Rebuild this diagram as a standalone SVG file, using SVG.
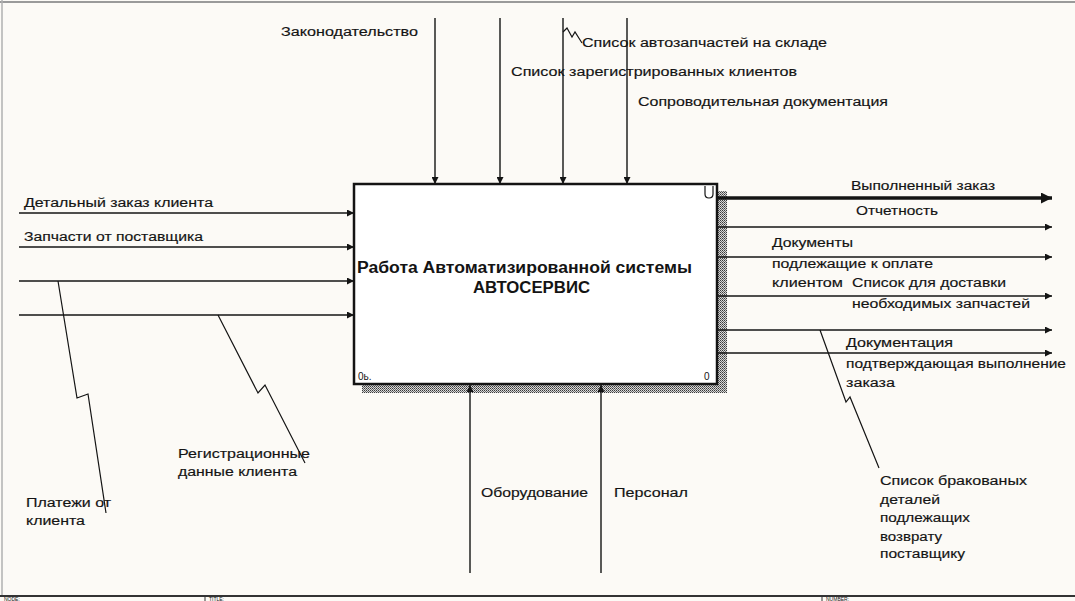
<svg xmlns="http://www.w3.org/2000/svg" width="1075" height="601" viewBox="0 0 1075 601">
<style>
.t{font-family:"Liberation Sans",Arial,sans-serif;font-size:12px;fill:#141414;stroke:#141414;stroke-width:0.15;}
.b{font-family:"Liberation Sans",Arial,sans-serif;font-size:16px;font-weight:bold;fill:#141414;}
.s{font-family:"Liberation Sans",Arial,sans-serif;font-size:10px;fill:#141414;}
.f{font-family:"Liberation Sans",Arial,sans-serif;font-size:5px;fill:#141414;}
.ln{stroke:#141414;stroke-width:1.4;fill:none;}
.sq{stroke:#141414;stroke-width:1.2;fill:none;}
</style>
<defs>
<marker id="ah" viewBox="0 0 10 10" refX="10" refY="5" markerWidth="8" markerHeight="7" markerUnits="userSpaceOnUse" orient="auto">
<path d="M0,0 L10,5 L0,10 z" fill="#141414"/>
</marker>
<marker id="ahb" viewBox="0 0 10 10" refX="10" refY="5" markerWidth="13" markerHeight="11" markerUnits="userSpaceOnUse" orient="auto">
<path d="M0,0 L10,5 L0,10 z" fill="#141414"/>
</marker>
<pattern id="hatch" width="2" height="2" patternUnits="userSpaceOnUse">
<rect width="2" height="2" fill="#d8d8d8"/>
<rect width="1" height="1" fill="#3a3a3a"/>
<rect x="1" y="1" width="1" height="1" fill="#6a6a6a"/>
</pattern>
</defs>
<rect width="1075" height="601" fill="#fcfaf6"/>
<line x1="0" y1="2" x2="1075" y2="2" stroke="#9a9a9a" stroke-width="2"/>
<line x1="2" y1="0" x2="2" y2="596" stroke="#b0b0b0" stroke-width="1.5"/>

<g id="frame">
<line x1="0" y1="596" x2="1075" y2="596" stroke="#333" stroke-width="2"/>
<line x1="205" y1="596" x2="205" y2="601" stroke="#333" stroke-width="1"/>
<line x1="822" y1="596" x2="822" y2="601" stroke="#333" stroke-width="1"/>
<text class="f" x="4" y="600.5">NODE:</text>
<text class="f" x="209" y="600.5">TITLE:</text>
<text class="f" x="826" y="600.5">NUMBER:</text>
</g>

<g id="node-A0">
<rect x="362" y="191" width="365" height="202" fill="url(#hatch)"/>
<rect x="354" y="184" width="363" height="200" fill="#fff" stroke="#141414" stroke-width="2.5"/>
<text class="b" x="357" y="273" textLength="335" lengthAdjust="spacingAndGlyphs">Работа Автоматизированной системы</text>
<text class="b" x="473" y="293" textLength="117" lengthAdjust="spacingAndGlyphs">АВТОСЕРВИС</text>
<text class="s" x="358" y="380">0ь.</text>
<text class="s" x="704" y="380">0</text>
<path d="M705,186 v8 q0,4 4,4 q4,0 4,-4 v-8" stroke="#141414" stroke-width="1.2" fill="none"/>
</g>

<g id="connectors">
<line class="ln" x1="435" y1="18" x2="435" y2="184" marker-end="url(#ah)"/>
<line class="ln" x1="500" y1="18" x2="500" y2="184" marker-end="url(#ah)"/>
<line class="ln" x1="563" y1="18" x2="563" y2="184" marker-end="url(#ah)"/>
<line class="ln" x1="627" y1="18" x2="627" y2="184" marker-end="url(#ah)"/>
<polyline class="sq" points="563,32 567,28 572,37 575,32 582,43"/>
<line class="ln" x1="19" y1="213" x2="354" y2="213" marker-end="url(#ah)"/>
<line class="ln" x1="19" y1="247" x2="354" y2="247" marker-end="url(#ah)"/>
<line class="ln" x1="19" y1="281" x2="354" y2="281" marker-end="url(#ah)"/>
<line class="ln" x1="19" y1="315" x2="354" y2="315" marker-end="url(#ah)"/>
<polyline class="sq" points="58,281 77,398 88,394 106,513"/>
<polyline class="sq" points="218,315 258,393 265,385 305,463"/>
<line x1="717" y1="198" x2="1052" y2="198" stroke="#141414" stroke-width="3.5" marker-end="url(#ahb)"/>
<line class="ln" x1="717" y1="227" x2="1052" y2="227" marker-end="url(#ah)"/>
<line class="ln" x1="717" y1="257" x2="1052" y2="257" marker-end="url(#ah)"/>
<line class="ln" x1="717" y1="296" x2="1052" y2="296" marker-end="url(#ah)"/>
<line class="ln" x1="717" y1="330" x2="1052" y2="330" marker-end="url(#ah)"/>
<line class="ln" x1="717" y1="353" x2="1052" y2="353" marker-end="url(#ah)"/>
<polyline class="sq" points="820,330 846,402 850,397 879,468"/>
<line class="ln" x1="470" y1="573" x2="470" y2="385" marker-end="url(#ah)"/>
<line class="ln" x1="601" y1="573" x2="601" y2="385" marker-end="url(#ah)"/>
</g>

<g id="labels">
<text class="t" x="281" y="36" textLength="137" lengthAdjust="spacingAndGlyphs">Законодательство</text>
<text class="t" x="582" y="47" textLength="245" lengthAdjust="spacingAndGlyphs">Список автозапчастей на складе</text>
<text class="t" x="511" y="76" textLength="286" lengthAdjust="spacingAndGlyphs">Список зарегистрированных клиентов</text>
<text class="t" x="638" y="106" textLength="250" lengthAdjust="spacingAndGlyphs">Сопроводительная документация</text>

<text class="t" x="24" y="207" textLength="189" lengthAdjust="spacingAndGlyphs">Детальный заказ клиента</text>
<text class="t" x="24" y="241" textLength="179" lengthAdjust="spacingAndGlyphs">Запчасти от поставщика</text>
<text class="t" x="26" y="507" textLength="85" lengthAdjust="spacingAndGlyphs">Платежи от</text>
<text class="t" x="26" y="525" textLength="59" lengthAdjust="spacingAndGlyphs">клиента</text>
<text class="t" x="178" y="458" textLength="132" lengthAdjust="spacingAndGlyphs">Регистрационные</text>
<text class="t" x="178" y="476" textLength="119" lengthAdjust="spacingAndGlyphs">данные клиента</text>

<text class="t" x="851" y="190" textLength="144" lengthAdjust="spacingAndGlyphs">Выполненный заказ</text>
<text class="t" x="856" y="215" textLength="82" lengthAdjust="spacingAndGlyphs">Отчетность</text>
<text class="t" x="772" y="247" textLength="81" lengthAdjust="spacingAndGlyphs">Документы</text>
<text class="t" x="772" y="268" textLength="161" lengthAdjust="spacingAndGlyphs">подлежащие к оплате</text>
<text class="t" x="772" y="287" textLength="71" lengthAdjust="spacingAndGlyphs">клиентом</text>
<text class="t" x="852" y="287" textLength="154" lengthAdjust="spacingAndGlyphs">Список для доставки</text>
<text class="t" x="852" y="308" textLength="178" lengthAdjust="spacingAndGlyphs">необходимых запчастей</text>
<text class="t" x="846" y="347" textLength="107" lengthAdjust="spacingAndGlyphs">Документация</text>
<text class="t" x="846" y="368" textLength="220" lengthAdjust="spacingAndGlyphs">подтверждающая выполнение</text>
<text class="t" x="846" y="387" textLength="49" lengthAdjust="spacingAndGlyphs">заказа</text>

<text class="t" x="880" y="485" textLength="147" lengthAdjust="spacingAndGlyphs">Список бракованых</text>
<text class="t" x="880" y="504" textLength="60" lengthAdjust="spacingAndGlyphs">деталей</text>
<text class="t" x="880" y="522" textLength="90" lengthAdjust="spacingAndGlyphs">подлежащих</text>
<text class="t" x="880" y="541" textLength="62" lengthAdjust="spacingAndGlyphs">возврату</text>
<text class="t" x="880" y="558" textLength="85" lengthAdjust="spacingAndGlyphs">поставщику</text>

<text class="t" x="481" y="497" textLength="107" lengthAdjust="spacingAndGlyphs">Оборудование</text>
<text class="t" x="614" y="497" textLength="74" lengthAdjust="spacingAndGlyphs">Персонал</text>
</g>
</svg>
